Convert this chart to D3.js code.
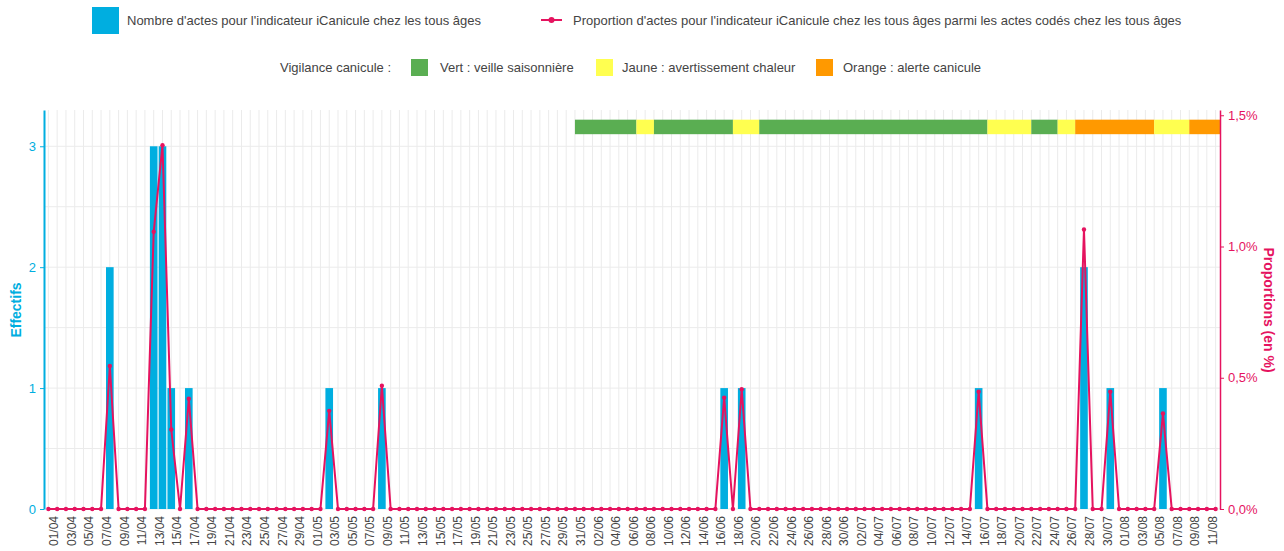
<!DOCTYPE html>
<html>
<head>
<meta charset="utf-8">
<script src="https://cdn.jsdelivr.net/npm/d3@7"></script>
<style>
  body { margin: 0; background: #fff; }
  svg { font-family: "Liberation Sans", Arial, Helvetica, sans-serif; }
</style>
</head>
<body>
<svg id="chart" width="1284" height="551"></svg>
<script>
// --- data (01/04 -> 12/08, one value per day) ---
var firstDay = new Date(2023, 3, 1),
    lastDay = new Date(2023, 7, 12);

// Nombre d'actes, by month
var countsApr = [0,0,0,0,0,0,0,2,0,0, 0,0,3,3,1,0,1,0,0,0, 0,0,0,0,0,0,0,0,0,0];
var countsMay = [0,0,1,0,0,0,0,0,1,0, 0,0,0,0,0,0,0,0,0,0, 0,0,0,0,0,0,0,0,0,0,0];
var countsJun = [0,0,0,0,0,0,0,0,0,0, 0,0,0,0,0,0,1,0,1,0, 0,0,0,0,0,0,0,0,0,0];
var countsJul = [0,0,0,0,0,0,0,0,0,0, 0,0,0,0,0,1,0,0,0,0, 0,0,0,0,0,0,0,2,0,0,1];
var countsAug = [0,0,0,0,0,1,0,0,0,0, 0,0];

// Proportion d'actes (en %), by month
var propApr = [0,0,0,0,0,0,0,0.545,0,0, 0,0,1.056,1.386,0.303,0,0.42,0,0,0, 0,0,0,0,0,0,0,0,0,0];
var propMay = [0,0,0.374,0,0,0,0,0,0.47,0, 0,0,0,0,0,0,0,0,0,0, 0,0,0,0,0,0,0,0,0,0,0];
var propJun = [0,0,0,0,0,0,0,0,0,0, 0,0,0,0,0,0,0.424,0,0.456,0, 0,0,0,0,0,0,0,0,0,0];
var propJul = [0,0,0,0,0,0,0,0,0,0, 0,0,0,0,0,0.447,0,0,0,0, 0,0,0,0,0,0,0,1.065,0,0,0.447];
var propAug = [0,0,0,0,0,0.364,0,0,0,0, 0,0];

// Vigilance canicule periods [start, end, level]
var vigilance = [
  ["31/05", "07/06", "vert"],
  ["07/06", "09/06", "jaune"],
  ["09/06", "18/06", "vert"],
  ["18/06", "21/06", "jaune"],
  ["21/06", "17/07", "vert"],
  ["17/07", "22/07", "jaune"],
  ["22/07", "25/07", "vert"],
  ["25/07", "27/07", "jaune"],
  ["27/07", "05/08", "orange"],
  ["05/08", "09/08", "jaune"],
  ["09/08", "13/08", "orange"]
];
var vigilanceLevels = ["vert", "jaune", "orange"];
var vigilanceLabels = ["Vert : veille saisonnière", "Jaune : avertissement chaleur", "Orange : alerte canicule"];

var leftTicks = [0, 1, 2, 3];
var rightTicks = [0, 0.5, 1, 1.5];

// --- styles ---
var blue = "#00aee0",
    pink = "#e5135f",
    vigColors = { vert: "#5aae52", jaune: "#ffff50", orange: "#ff9900" },
    gridColor = "#ebebeb",
    textColor = "#444";

var days = d3.timeDay.range(firstDay, d3.timeDay.offset(lastDay, 1));
var counts = countsApr.concat(countsMay, countsJun, countsJul, countsAug);
var props = propApr.concat(propMay, propJun, propJul, propAug);
var data = days.map(function (d, i) { return { date: d, count: counts[i], prop: props[i] }; });

var parseDay = d3.timeParse("%d/%m/%Y");
var fmtDay = d3.timeFormat("%d/%m");

var plotL = 44, plotR = 1220, plotT = 110, plotB = 509;

var x = d3.scaleTime()
  .domain([d3.timeHour.offset(firstDay, -12), d3.timeHour.offset(lastDay, 12)])
  .range([plotL, plotR]);
var step = x(days[1]) - x(days[0]);
var bw = step * 0.87;

var yL = d3.scaleLinear().domain([0, 3.3]).range([plotB, plotT]);
var yR = d3.scaleLinear().domain([0, 1.52]).range([plotB, plotT]);

var svg = d3.select("#chart");

svg.append("clipPath").attr("id", "plotclip")
  .append("rect").attr("x", plotL).attr("y", plotT).attr("width", plotR - plotL).attr("height", plotB - plotT + 5);

// grid
var grid = svg.append("g");
grid.selectAll("line.v").data(days).enter().append("line")
  .attr("x1", function (d) { return x(d); }).attr("x2", function (d) { return x(d); })
  .attr("y1", plotT).attr("y2", plotB)
  .attr("stroke", gridColor).attr("stroke-width", 1);
grid.selectAll("line.h").data(d3.range(0, 3.01, 0.5)).enter().append("line")
  .attr("x1", plotL).attr("x2", plotR)
  .attr("y1", function (d) { return yL(d); }).attr("y2", function (d) { return yL(d); })
  .attr("stroke", gridColor).attr("stroke-width", 1);

// bars
svg.append("g").selectAll("rect").data(data.filter(function (d) { return d.count > 0; })).enter().append("rect")
  .attr("x", function (d) { return x(d.date) - bw / 2; })
  .attr("width", bw)
  .attr("y", function (d) { return yL(d.count); })
  .attr("height", function (d) { return yL(0) - yL(d.count); })
  .attr("fill", blue);

// vigilance band
var vigTop = yL(3.22), vigBottom = yL(3.1);
svg.append("g").attr("clip-path", "url(#plotclip)")
  .selectAll("rect").data(vigilance).enter().append("rect")
  .attr("x", function (d) { return x(parseDay(d[0] + "/2023")); })
  .attr("width", function (d) { return x(parseDay(d[1] + "/2023")) - x(parseDay(d[0] + "/2023")); })
  .attr("y", vigTop).attr("height", vigBottom - vigTop)
  .attr("fill", function (d) { return vigColors[d[2]]; });

// proportion line
var line = d3.line().x(function (d) { return x(d.date); }).y(function (d) { return yR(d.prop); });
svg.append("path").datum(data)
  .attr("d", line).attr("fill", "none")
  .attr("stroke", pink).attr("stroke-width", 2).attr("stroke-linejoin", "round");
svg.append("g").selectAll("circle").data(data).enter().append("circle")
  .attr("cx", function (d) { return x(d.date); })
  .attr("cy", function (d) { return yR(d.prop); })
  .attr("r", 2.2).attr("fill", pink);

// x labels (every 2 days)
svg.append("g").selectAll("text").data(days.filter(function (d, i) { return i % 2 === 0; })).enter().append("text")
  .attr("transform", function (d) { return "translate(" + x(d) + "," + (plotB + 7) + ") rotate(-90)"; })
  .attr("y", 10)
  .attr("text-anchor", "end")
  .attr("font-size", 12)
  .attr("fill", textColor)
  .text(function (d) { return fmtDay(d); });

// left axis
var axL = svg.append("g").attr("transform", "translate(" + plotL + ",0)")
  .call(d3.axisLeft(yL).tickValues(leftTicks).tickFormat(d3.format("d"))
    .tickSize(4).tickSizeOuter(0).tickPadding(4));
axL.select(".domain").attr("stroke", blue).attr("stroke-width", 2);
axL.selectAll(".tick line").attr("stroke", blue);
axL.selectAll(".tick text").attr("fill", blue).attr("font-size", 13).attr("font-family", null);

svg.append("text")
  .attr("transform", "translate(21,310) rotate(-90)")
  .attr("text-anchor", "middle")
  .attr("font-size", 14).attr("font-weight", "bold").attr("fill", blue)
  .text("Effectifs");

// right axis
var axR = svg.append("g").attr("transform", "translate(" + plotR + ",0)")
  .call(d3.axisRight(yR).tickValues(rightTicks).tickSize(4).tickSizeOuter(0).tickPadding(4)
    .tickFormat(function (d) { return d3.format(".1f")(d).replace(".", ",") + "%"; }));
axR.select(".domain").attr("stroke", pink).attr("stroke-width", 1.5);
axR.selectAll(".tick line").attr("stroke", pink);
axR.selectAll(".tick text").attr("fill", pink).attr("font-size", 13).attr("font-family", null);

svg.append("text")
  .attr("transform", "translate(1264,310) rotate(90)")
  .attr("text-anchor", "middle")
  .attr("font-size", 14).attr("font-weight", "bold").attr("fill", pink)
  .text("Proportions (en %)");

// legend row 1
var lg = svg.append("g").attr("font-size", 13).attr("fill", textColor);
lg.append("rect").attr("x", 92).attr("y", 7).attr("width", 27).attr("height", 27).attr("fill", blue);
lg.append("text").attr("x", 127).attr("y", 25).text("Nombre d'actes pour l'indicateur iCanicule chez les tous âges");
lg.append("line").attr("x1", 541).attr("x2", 562).attr("y1", 20).attr("y2", 20).attr("stroke", pink).attr("stroke-width", 2);
lg.append("circle").attr("cx", 551.5).attr("cy", 20).attr("r", 3).attr("fill", pink);
lg.append("text").attr("x", 573).attr("y", 25).text("Proportion d'actes pour l'indicateur iCanicule chez les tous âges parmi les actes codés chez les tous âges");

// legend row 2
lg.append("text").attr("x", 280).attr("y", 72).text("Vigilance canicule :");
var sqX = [411, 596, 816], txX = [440, 622, 843];
vigilanceLevels.forEach(function (lvl, i) {
  lg.append("rect").attr("x", sqX[i]).attr("y", 59).attr("width", 17).attr("height", 17).attr("fill", vigColors[lvl]);
  lg.append("text").attr("x", txX[i]).attr("y", 72).text(vigilanceLabels[i]);
});
</script>
</body>
</html>
